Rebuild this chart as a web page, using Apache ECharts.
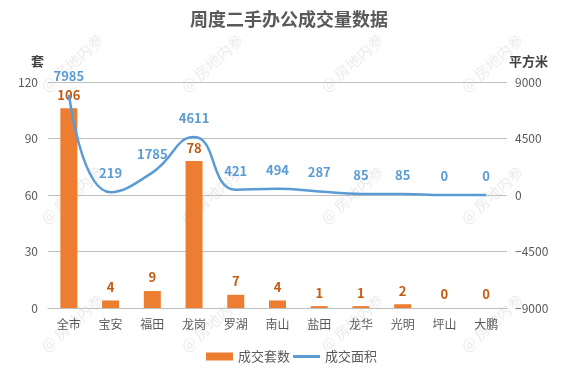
<!DOCTYPE html>
<html><head><meta charset="utf-8">
<script src="https://cdn.jsdelivr.net/npm/echarts@6/dist/echarts.min.js"></script>
<style>html,body{margin:0;padding:0;background:#fff}#c{width:578px;height:386px}</style>
</head><body><div id="c"></div>
<script>
const categories = ['全市','宝安','福田','龙岗','罗湖','南山','盐田','龙华','光明','坪山','大鹏'];
const units = [106,4,9,78,7,4,1,1,2,0,0];
const areas = [7985,219,1785,4611,421,494,287,85,85,0,0];
const leftTicks = {min:0,max:120,interval:30};
const rightTicks = {min:-9000,max:9000,interval:4500};
const FONT = '"Noto Sans CJK SC", "Microsoft YaHei", sans-serif';

const chart = echarts.init(document.getElementById('c'));
const wm = [];
[72,212,352,492].forEach(x=>{[63,195,323].forEach(y=>{
  wm.push({type:'text',x:x,y:y,rotation:Math.PI/4.3,z:0,silent:true,
    style:{text:'@ 房地内参',fill:'rgba(190,190,190,0.3)',font:'15px '+FONT,align:'center',verticalAlign:'middle'}});
});});
chart.setOption({
  animation:false,
  textStyle:{fontFamily:FONT},
  title:{text:'周度二手办公成交量数据',left:'center',top:5,
    textStyle:{fontSize:18,fontWeight:'bold',color:'#595959',fontFamily:FONT}},
  grid:{left:48,right:71,top:82,bottom:78},
  legend:[
    {left:201,bottom:18,itemWidth:27,itemHeight:8,itemGap:0,
     textStyle:{fontSize:13,color:'#595959',fontFamily:FONT},
     data:[{name:'成交套数',icon:'rect'}]},
    {left:288,bottom:18,itemWidth:27,itemHeight:3,itemGap:0,
     textStyle:{fontSize:13,color:'#595959',fontFamily:FONT},
     data:[{name:'成交面积',icon:'rect',itemStyle:{color:'#5B9BD5',opacity:1}}]}
  ],
  graphic:wm,
  xAxis:{type:'category',data:categories,
    axisLine:{lineStyle:{color:'#bfbfbf'}},axisTick:{show:false},
    axisLabel:{color:'#595959',fontSize:12,margin:10,fontFamily:FONT}},
  yAxis:[
    {type:'value',min:leftTicks.min,max:leftTicks.max,interval:leftTicks.interval,
     name:'套',nameLocation:'end',nameGap:14,
     nameTextStyle:{color:'#404040',fontSize:13,fontWeight:'bold',align:'right',padding:[0,4,0,0]},
     axisLine:{show:false},axisTick:{show:false},
     axisLabel:{color:'#595959',fontSize:12,margin:10},
     splitLine:{lineStyle:{color:'#bfbfbf'}}},
    {type:'value',min:rightTicks.min,max:rightTicks.max,interval:rightTicks.interval,
     name:'平方米',nameLocation:'end',nameGap:14,
     nameTextStyle:{color:'#404040',fontSize:13,fontWeight:'bold',align:'left',padding:[0,0,0,2]},
     axisLine:{show:false},axisTick:{show:false},
     axisLabel:{color:'#595959',fontSize:12,margin:8,
       formatter:v=>v<0?'\u2212'+(-v):String(v)},
     splitLine:{show:false}}
  ],
  series:[
    {name:'成交套数',type:'bar',data:units,yAxisIndex:0,barWidth:17,z:2,
     itemStyle:{color:'#ED7D31'},
     label:{show:true,position:'top',distance:7,color:'#C55A11',fontSize:13,fontWeight:'bold'}},
    {name:'成交面积',type:'line',data:areas,yAxisIndex:1,smooth:true,
     symbol:'circle',symbolSize:1,showSymbol:true,z:3,
     lineStyle:{color:'#5B9BD5',width:2.5},itemStyle:{color:'#5B9BD5',opacity:0},
     label:{show:true,position:'top',distance:12,color:'#5B9BD5',fontSize:13,fontWeight:'bold',opacity:1}}
  ]
});
</script></body></html>
